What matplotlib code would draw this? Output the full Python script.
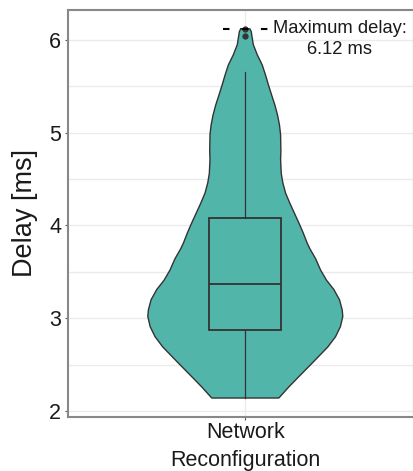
import numpy as np
import matplotlib.pyplot as plt

plt.rcParams['font.family'] = ['Liberation Sans', 'DejaVu Sans']

category = 'Network\nReconfiguration'

# violin outline: delay value -> relative half width
violin_delay = [6.12, 6.09, 5.95, 5.84, 5.73, 5.62, 5.52, 5.41, 5.30, 5.19,
                5.08, 4.98, 4.80, 4.71, 4.56, 4.46, 4.35, 4.24, 4.13, 4.02,
                3.92, 3.81, 3.75, 3.64, 3.52, 3.41, 3.31, 3.20, 3.09, 3.02,
                2.91, 2.80, 2.69, 2.59, 2.48, 2.37, 2.26, 2.14]
violin_width = [0.047, 0.061, 0.082, 0.123, 0.174, 0.208, 0.236, 0.269, 0.303, 0.331,
                0.351, 0.362, 0.365, 0.362, 0.369, 0.385, 0.413, 0.457, 0.505, 0.553,
                0.594, 0.635, 0.662, 0.722, 0.772, 0.833, 0.908, 0.966, 0.994, 1.000,
                0.976, 0.925, 0.846, 0.754, 0.652, 0.549, 0.447, 0.344]

# box summary
q1, median, q3 = 2.87, 3.37, 4.08
whisker_lo, whisker_hi = 2.14, 5.65
outliers = [6.04, 6.12]
max_delay = 6.12

fill = '#52b5aa'
edge = '#333333'

fig = plt.figure(figsize=(4.14, 4.71), dpi=100)
ax = fig.add_axes([0.1643, 0.1153, 0.8357, 0.8635])

ax.set_xlim(0.4, 1.571)
ax.set_ylim(1.9386, 6.3235)

# violin
half = np.array(violin_width) * 0.330
y = np.array(violin_delay)
ax.fill_betweenx(y, 1 - half, 1 + half, facecolor=fill, edgecolor='none', zorder=2)
ax.plot(np.concatenate([1 - half, (1 + half)[::-1], [1 - half[0]]]),
        np.concatenate([y, y[::-1], [y[0]]]), color=edge, lw=1.0, zorder=3,
        solid_joinstyle='round')

# box
stats = [dict(med=median, q1=q1, q3=q3, whislo=whisker_lo, whishi=whisker_hi, fliers=outliers)]
ax.bxp(stats, positions=[1], widths=0.244, patch_artist=True, showcaps=False,
       boxprops=dict(facecolor=fill, edgecolor=edge, linewidth=1.3),
       medianprops=dict(color=edge, linewidth=1.3),
       whiskerprops=dict(color=edge, linewidth=0.9),
       flierprops=dict(marker='o', markersize=3.5, markerfacecolor=edge,
                       markeredgecolor=edge),
       zorder=4)

# max delay annotation
ax.plot([0.9245, 1.077], [max_delay, max_delay], color='black', lw=1.5,
        dashes=(3.1, 6), zorder=5)
ax.text(1.3205, 6.011, 'Maximum delay:\n%.2f ms' % max_delay, ha='center', va='center',
        fontsize=13.2, color='#1a1a1a', linespacing=1.25, zorder=6)

# axes styling
ax.set_xticks([1])
ax.set_xticklabels([category], fontsize=15.5, color='#1a1a1a', linespacing=1.4)
ax.set_yticks([2, 3, 4, 5, 6])
ax.set_yticks([2.5, 3.5, 4.5, 5.5], minor=True)
ax.tick_params(axis='y', which='major', labelsize=15.5, labelcolor='#1a1a1a',
               length=2, color='#555555', pad=3)
ax.tick_params(axis='y', which='minor', length=0)
ax.tick_params(axis='x', labelsize=15.5, length=2, color='#555555', pad=2)
ax.set_ylabel('Delay [ms]', fontsize=19.5, color='#1a1a1a', labelpad=8)
ax.grid(True, which='major', color='#ebebeb', lw=1.0, zorder=0)
ax.grid(True, which='minor', axis='y', color='#ebebeb', lw=1.0, zorder=0)
ax.set_axisbelow(True)
for s in ax.spines.values():
    s.set_color('#888888')
    s.set_linewidth(1.5)

fig.savefig('out.png', dpi=100)
